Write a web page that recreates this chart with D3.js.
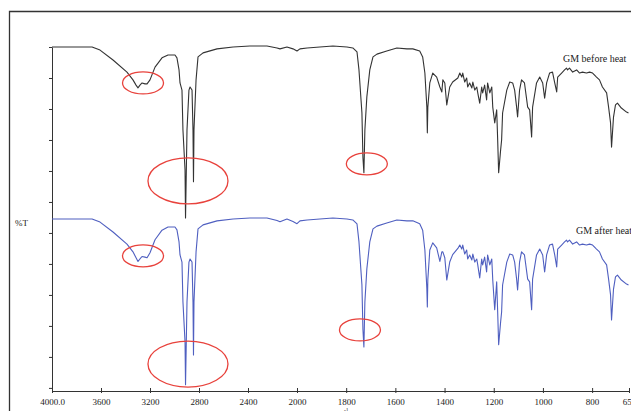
<!DOCTYPE html>
<html>
<head>
<meta charset="utf-8">
<script src="https://cdn.jsdelivr.net/npm/d3@7"></script>
<style>
  html, body { margin: 0; padding: 0; background: #fff; }
  svg { display: block; }
  text { font-family: "Liberation Serif", "DejaVu Serif", serif; fill: #222; }
</style>
</head>
<body>
<svg id="chart" width="631" height="411"></svg>
<script>
// Wavenumbers (cm-1) shared by both FTIR spectra
const wavenumbers = [
  4000, 3812, 3673, 3608, 3502, 3388, 3339, 3314, 3298, 3282, 3265, 3241, 3224, 3200, 3159, 3102,
  3053, 2996, 2980, 2963, 2955, 2939, 2931, 2914, 2910, 2898, 2882, 2873, 2857, 2849, 2845, 2841,
  2824, 2808, 2767, 2653, 2522, 2384, 2245, 2163, 2139, 2082, 2033, 2000, 1988, 1959, 1907, 1854,
  1797, 1773, 1756, 1748, 1736, 1732, 1728, 1724, 1716, 1704, 1691, 1675, 1635, 1594, 1553, 1529,
  1501, 1489, 1480, 1472, 1470, 1468, 1460, 1448, 1432, 1419, 1411, 1407, 1399, 1391, 1379, 1367,
  1346, 1338, 1330, 1326, 1318, 1310, 1306, 1298, 1289, 1285, 1277, 1269, 1265, 1257, 1249, 1245,
  1237, 1229, 1225, 1216, 1208, 1204, 1196, 1188, 1184, 1180, 1172, 1168, 1164, 1147, 1135, 1123,
  1115, 1107, 1103, 1095, 1087, 1075, 1062, 1054, 1046, 1042, 1026, 1013, 1001, 993, 985, 973,
  961, 952, 944, 940, 924, 912, 904, 900, 892, 879, 863, 851, 839, 823, 810, 798,
  782, 770, 758, 741, 733, 725, 721, 713, 705, 697, 681, 660, 652
];

// %T of the sample before heating (upper trace)
const beforeHeat = [
  110.0, 110.0, 110.0, 109.0, 105.8, 101.9, 99.4, 97.7, 96.8, 97.7, 98.4, 98.1, 98.1, 99.4, 103.5, 106.5,
  107.4, 107.4, 106.5, 102.6, 98.4, 96.1, 83.2, 70.3, 54.8, 83.2, 96.1, 97.1, 96.1, 83.2, 66.5, 83.2,
  99.4, 106.8, 108.1, 109.4, 110.0, 110.3, 110.3, 109.7, 109.4, 110.0, 109.4, 108.7, 109.4, 109.7, 110.0, 110.3,
  110.0, 109.7, 108.4, 102.6, 88.7, 74.5, 69.4, 83.2, 93.9, 102.6, 106.8, 107.7, 108.7, 109.7, 109.4, 109.4,
  108.7, 106.8, 101.6, 90.6, 82.3, 90.6, 98.4, 101.6, 100.3, 97.1, 95.5, 99.4, 98.4, 91.3, 97.1, 98.7,
  100.0, 101.6, 100.3, 101.6, 98.7, 100.0, 97.1, 98.4, 96.8, 98.7, 96.1, 97.1, 95.2, 91.9, 97.1, 95.2,
  97.7, 92.9, 98.4, 95.2, 97.1, 90.6, 85.5, 89.7, 80.0, 69.4, 76.8, 80.0, 88.7, 96.1, 98.7, 98.4,
  96.1, 90.6, 87.4, 96.1, 99.4, 98.4, 90.6, 89.7, 81.0, 90.6, 98.4, 100.3, 98.4, 93.5, 98.4, 101.6,
  101.9, 98.4, 95.5, 100.3, 101.6, 102.6, 103.2, 102.6, 103.2, 101.9, 102.6, 101.6, 101.9, 101.6, 101.9, 101.6,
  100.3, 99.4, 97.1, 95.2, 90.6, 85.5, 77.7, 87.4, 91.3, 91.9, 90.3, 89.0, 88.7
];

// %T of the sample after heating (lower trace)
const afterHeat = [
  54.5, 54.5, 54.5, 53.5, 50.3, 46.4, 43.9, 42.0, 40.8, 41.6, 42.4, 42.2, 42.0, 43.6, 47.8, 50.9,
  51.9, 51.9, 51.0, 47.1, 42.9, 40.6, 27.7, 14.8, 1.0, 27.7, 40.6, 41.6, 40.6, 27.7, 10.6, 27.7,
  43.9, 51.3, 52.6, 53.9, 54.5, 54.8, 54.8, 54.0, 53.6, 54.5, 53.7, 53.0, 53.9, 54.2, 54.5, 54.8,
  54.5, 54.2, 52.9, 47.1, 33.2, 19.0, 13.2, 27.7, 38.4, 47.1, 51.3, 52.2, 53.2, 54.2, 53.9, 53.9,
  53.0, 50.9, 44.5, 32.0, 26.1, 35.0, 44.5, 46.8, 45.2, 40.8, 43.9, 43.9, 42.0, 34.8, 40.6, 43.0,
  45.0, 46.1, 44.8, 46.1, 43.2, 44.5, 41.6, 42.9, 41.3, 43.2, 40.6, 41.6, 39.7, 35.5, 41.6, 39.7,
  42.2, 37.4, 42.9, 39.7, 41.6, 34.8, 25.2, 34.2, 24.5, 13.9, 21.3, 24.5, 33.2, 40.6, 43.2, 42.9,
  40.6, 35.1, 31.6, 40.6, 43.9, 42.9, 35.1, 34.2, 25.2, 35.1, 42.9, 44.8, 42.9, 37.4, 42.9, 46.1,
  46.4, 42.9, 39.0, 44.8, 46.1, 47.1, 47.7, 47.1, 47.7, 46.4, 47.1, 46.1, 46.4, 46.1, 46.4, 46.1,
  44.8, 43.9, 41.6, 39.7, 35.1, 30.0, 21.9, 31.9, 35.8, 36.4, 34.8, 33.5, 33.2
];

// Axis ticks
const xTickValues = [4000, 3600, 3200, 2800, 2400, 2000, 1800, 1600, 1400, 1200, 1000, 800, 650];
const yTickValues = [0, 10, 20, 30, 40, 50, 60, 70, 80, 90, 100, 110];

// Trace names
const seriesNames = ["GM before heat", "GM after heat"];

// Highlighted bands (O-H, C-H, C=O) on each trace: centre wavenumber, centre %T, size class
const bandWn   = [3257, 2890, 1716, 3257, 2890, 1744];
const bandT    = [98.4, 66.8, 72.3, 42.6, 7.7, 18.7];
const bandSize = ["small", "large", "small", "small", "large", "small"];

// ---------------------------------------------------------------------------
const ellipseRadii = { small: [20.5, 11], large: [40, 23] };
const lineColors = ["#333333", "#4f5fc0"];

const svg = d3.select("#chart");

// Frame around the plot
svg.append("path")
  .attr("d", "M9.5,411 V11.5 H631")
  .attr("fill", "none")
  .attr("stroke", "#333")
  .attr("stroke-width", 1.3);

// Wavenumber axis changes its scale at 2000 cm-1
const x = d3.scaleLinear().domain([4000, 2000, 650]).range([52, 297, 629]);
const y = d3.scaleLinear().domain([-1, 110]).range([391, 47]);

// x axis
const xAxis = svg.append("g")
  .attr("transform", `translate(0,${y(-1)})`)
  .call(d3.axisBottom(x)
    .tickValues(xTickValues)
    .tickSize(3)
    .tickSizeOuter(0)
    .tickPadding(5)
    .tickFormat(d => d === 4000 ? "4000.0" : String(d)));
xAxis.select(".domain").attr("stroke", "#333");
xAxis.selectAll(".tick line").attr("stroke", "#333").attr("y1", -3).attr("y2", 2);
xAxis.selectAll(".tick text")
  .attr("font-size", 9)
  .attr("font-family", "Liberation Serif, serif")
  .attr("fill", "#222");

// axis unit, partly below the bottom edge
const unit = svg.append("text")
  .attr("x", 333)
  .attr("y", 415)
  .attr("font-size", 9);
unit.append("tspan").text("cm");
unit.append("tspan").attr("dy", -3).attr("font-size", 5.5).text("-1");

// y axis (unlabelled ticks)
const yAxis = svg.append("g")
  .attr("transform", `translate(${x(4000)},0)`)
  .call(d3.axisLeft(y)
    .tickValues(yTickValues)
    .tickSize(3)
    .tickSizeOuter(0)
    .tickFormat(""));
yAxis.select(".domain").attr("stroke", "#333");
yAxis.selectAll(".tick line").attr("stroke", "#333");

svg.append("text")
  .attr("x", 15)
  .attr("y", 226)
  .attr("font-size", 9)
  .text("%T");

// Spectra
const line = d3.line()
  .x((d, i) => x(wavenumbers[i]))
  .y(d => y(d));

[beforeHeat, afterHeat].forEach((series, k) => {
  svg.append("path")
    .datum(series)
    .attr("fill", "none")
    .attr("stroke", lineColors[k])
    .attr("stroke-width", 1.1)
    .attr("stroke-linejoin", "round")
    .attr("d", line);
});

// Trace labels
svg.append("text")
  .attr("x", 563)
  .attr("y", 62)
  .attr("font-size", 10)
  .text(seriesNames[0]);
svg.append("text")
  .attr("x", 576)
  .attr("y", 234)
  .attr("font-size", 10)
  .text(seriesNames[1]);

// Red rings around the bands of interest
svg.selectAll("ellipse.band")
  .data(bandWn)
  .join("ellipse")
  .attr("class", "band")
  .attr("cx", d => x(d))
  .attr("cy", (d, i) => y(bandT[i]))
  .attr("rx", (d, i) => ellipseRadii[bandSize[i]][0])
  .attr("ry", (d, i) => ellipseRadii[bandSize[i]][1])
  .attr("fill", "none")
  .attr("stroke", "#e8423c")
  .attr("stroke-width", 1.3);
</script>
</body>
</html>
